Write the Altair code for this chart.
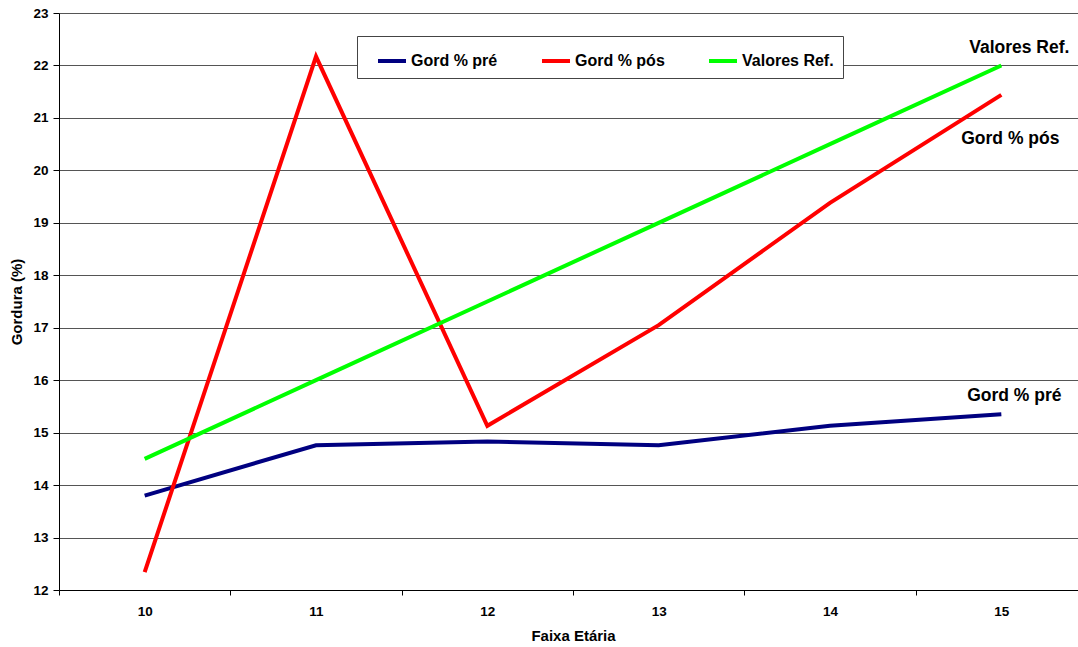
import altair as alt
import pandas as pd

# Age groups on the x axis
faixa = [10, 11, 12, 13, 14, 15]

# Body-fat percentage per age group
gord_pre = [13.80, 14.76, 14.83, 14.76, 15.13, 15.35]
gord_pos = [12.34, 22.17, 15.13, 17.05, 19.38, 21.44]
valores_ref = [14.5, 16.0, 17.5, 19.0, 20.5, 22.0]

series = ["Gord % pré", "Gord % pós", "Valores Ref."]
cores = ["#000080", "#FF0000", "#00FF00"]

rows = []
for nome, valores in zip(series, [gord_pre, gord_pos, valores_ref]):
    for f, v in zip(faixa, valores):
        rows.append({"faixa": f, "valor": v, "serie": nome})
df = pd.DataFrame(rows)

FONT = "Liberation Sans"
LABEL_STYLE = dict(
    labelFont=FONT,
    labelFontSize=13.5,
    labelFontWeight="bold",
    labelColor="black",
    titleFont=FONT,
    titleFontSize=15,
    titleFontWeight="bold",
    titleColor="black",
    domainColor="black",
    domainWidth=1,
    tickColor="black",
)

x_enc = alt.X(
    "faixa:O",
    scale=alt.Scale(type="band", paddingInner=0, paddingOuter=0, range=[0, 1028]),
    axis=alt.Axis(
        title="Faixa Etária",
        tickBand="extent",
        labelAngle=0,
        tickSize=5,
        labelPadding=9,
        titlePadding=11,
        grid=False,
        **LABEL_STYLE,
    ),
)
y_enc = alt.Y(
    "valor:Q",
    scale=alt.Scale(domain=[12, 23], nice=False, zero=False),
    axis=alt.Axis(
        title="Gordura (%)",
        values=list(range(12, 24)),
        tickSize=6,
        labelPadding=5,
        titlePadding=8,
        grid=True,
        gridColor="#555555",
        gridWidth=1,
        **LABEL_STYLE,
    ),
)

linhas = alt.Chart(df).mark_line(strokeWidth=4).encode(
    x=x_enc,
    y=y_enc,
    color=alt.Color(
        "serie:N",
        scale=alt.Scale(domain=series, range=cores),
        sort=series,
        legend=alt.Legend(
            title=None,
            orient="none",
            legendX=298,
            legendY=23,
            direction="horizontal",
            symbolType="stroke",
            symbolStrokeWidth=4,
            symbolSize=784,
            symbolOffset=10,
            labelFont=FONT,
            labelFontSize=16,
            labelFontWeight="bold",
            labelColor="black",
            labelOffset=3,
            columnPadding=32,
            padding=9,
            fillColor="white",
            strokeColor="#444444",
        ),
    ),
)

ultimo = df[df["faixa"] == 15]


def rotulo(nome, dx, dy):
    return (
        alt.Chart(ultimo[ultimo["serie"] == nome])
        .mark_text(
            font=FONT,
            fontSize=17.5,
            fontWeight="bold",
            color="black",
            dx=dx,
            dy=dy,
            baseline="middle",
            align="center",
        )
        .encode(x=alt.X("faixa:O"), y=alt.Y("valor:Q"), text="serie:N")
    )


chart = (
    alt.layer(
        linhas,
        rotulo("Valores Ref.", 18, -17),
        rotulo("Gord % pós", 9, 44),
        rotulo("Gord % pré", 13, -18),
    )
    .properties(
        width=1019,
        height=577,
        autosize=alt.AutoSizeParams(type="none"),
        padding={"left": 59, "top": 13, "right": 0, "bottom": 57},
        background="white",
    )
    .configure_view(stroke=None)
)

chart.save("out.html", embed_options={"renderer": "svg", "actions": False})
